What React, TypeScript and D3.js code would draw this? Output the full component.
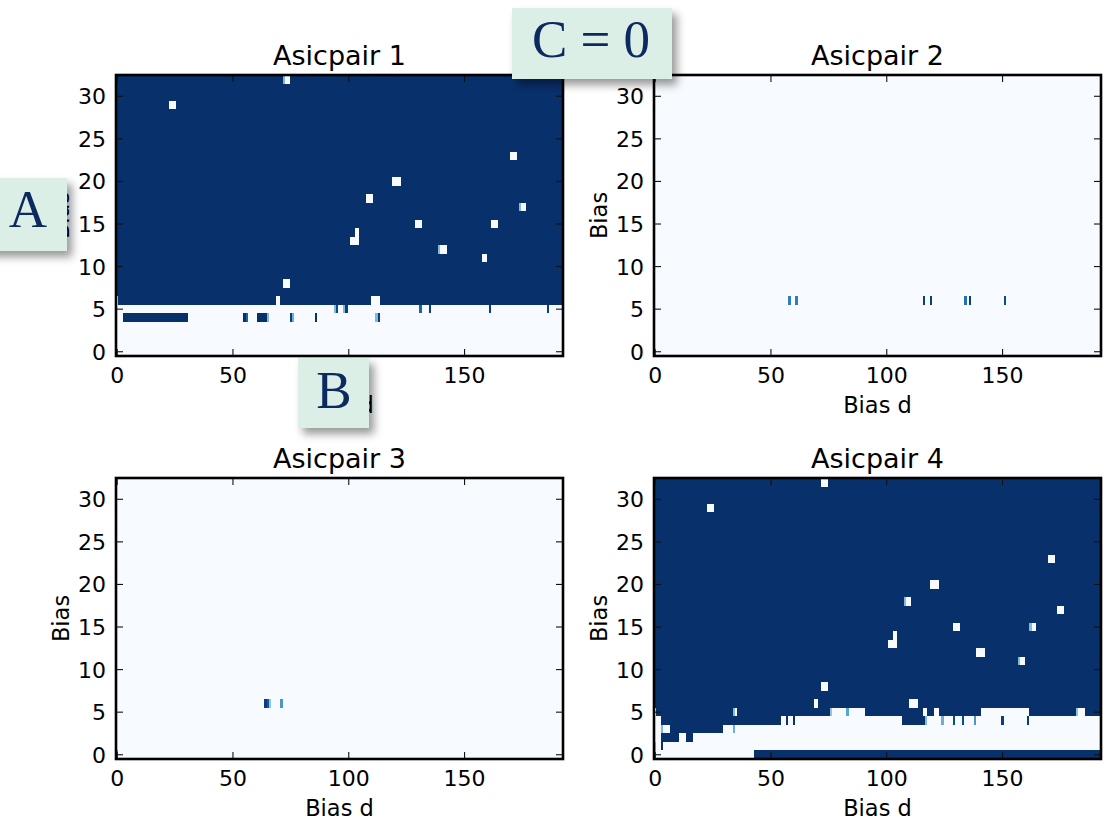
import React, { useEffect, useRef } from "react";
import * as d3 from "d3";

//size of every heatmap (bias d columns x bias rows)
const nCols = 193;
const nRows = 33;

//axis ticks
const xTicks = [0, 50, 100, 150];
const yTicks = [0, 5, 10, 15, 20, 25, 30];

const titles = ["Asicpair 1", "Asicpair 2", "Asicpair 3", "Asicpair 4"];
const xLabel = "Bias d";
const yLabel = "Bias";

//light area, per column range: [firstCol, lastCol, topLightRow]
const pair1Light = [[0, 192, 5]];
//single cells or runs that differ: [firstCol, lastCol, row, value]
const pair1Cells = [
  [0, 0, 6, 0],
  [23, 25, 29, 0],
  [72, 72, 32, 0.45],
  [73, 74, 32, 0],
  [72, 74, 8, 0],
  [69, 70, 6, 0],
  [110, 113, 6, 0],
  [170, 172, 23, 0],
  [119, 122, 20, 0],
  [108, 110, 18, 0],
  [174, 174, 17, 0.45],
  [175, 176, 17, 0],
  [129, 131, 15, 0],
  [162, 164, 15, 0],
  [103, 104, 14, 0],
  [101, 104, 13, 0],
  [139, 139, 12, 0.45],
  [140, 142, 12, 0],
  [158, 159, 11, 0],
  [94, 94, 5, 0.45],
  [95, 95, 5, 0.9],
  [98, 98, 5, 0.45],
  [99, 99, 5, 0.95],
  [131, 131, 5, 0.8],
  [135, 135, 5, 0.95],
  [161, 161, 5, 0.95],
  [186, 186, 5, 0.95],
  [3, 30, 4, 1],
  [55, 55, 4, 1],
  [56, 56, 4, 0.8],
  [61, 64, 4, 1],
  [65, 65, 4, 0.45],
  [75, 75, 4, 0.95],
  [76, 76, 4, 0.5],
  [86, 86, 4, 1],
  [112, 112, 4, 0.45],
  [113, 113, 4, 0.95],
];

const pair2Light = [[0, 192, 32]];
const pair2Cells = [
  [58, 58, 6, 0.7],
  [61, 61, 6, 0.7],
  [116, 116, 6, 0.95],
  [119, 119, 6, 0.95],
  [134, 134, 6, 0.75],
  [136, 136, 6, 0.95],
  [151, 151, 6, 0.9],
];

const pair3Light = [[0, 192, 32]];
const pair3Cells = [
  [0, 0, 0, 0.55],
  [64, 64, 6, 0.95],
  [65, 65, 6, 0.85],
  [66, 66, 6, 0.4],
  [71, 71, 6, 0.6],
];

const pair4Light = [
  [0, 0, 5],
  [1, 2, 4],
  [3, 3, 0],
  [4, 10, 1],
  [11, 13, 2],
  [14, 16, 1],
  [17, 29, 2],
  [30, 54, 3],
  [55, 75, 4],
  [76, 82, 5],
  [83, 83, 4],
  [84, 90, 5],
  [91, 106, 4],
  [107, 117, 3],
  [118, 120, 4],
  [121, 122, 5],
  [123, 140, 4],
  [141, 161, 5],
  [162, 181, 4],
  [182, 185, 5],
  [186, 192, 4],
];
const pair4Cells = [
  [43, 192, 0, 1],
  [0, 0, 0, 0.4],
  [0, 0, 1, 0.4],
  [3, 3, 3, 0.45],
  [4, 6, 3, 0],
  [34, 34, 3, 0.5],
  [57, 57, 4, 1],
  [60, 60, 4, 1],
  [76, 76, 5, 0.4],
  [83, 83, 5, 0.55],
  [117, 117, 4, 0.45],
  [124, 124, 4, 0.5],
  [129, 129, 4, 0.9],
  [133, 133, 4, 0.9],
  [138, 138, 4, 0.6],
  [150, 150, 4, 0.95],
  [161, 161, 4, 0.95],
  [182, 182, 5, 0.4],
  [23, 25, 29, 0],
  [72, 74, 32, 0],
  [170, 172, 23, 0],
  [119, 122, 20, 0],
  [108, 108, 18, 0.45],
  [109, 110, 18, 0],
  [174, 176, 17, 0],
  [129, 131, 15, 0],
  [162, 162, 15, 0.45],
  [163, 164, 15, 0],
  [103, 104, 14, 0],
  [101, 104, 13, 0],
  [139, 142, 12, 0],
  [157, 157, 11, 0.45],
  [158, 159, 11, 0],
  [72, 74, 8, 0],
  [69, 70, 6, 0],
  [110, 113, 6, 0],
  [34, 34, 5, 0.45],
  [35, 35, 5, 0],
  [116, 117, 5, 0],
];

//note boxes drawn over the figure
const notes = ["C = 0", "A", "B"];

//builds the value grid (1 = dark) from the light runs and single cells
const buildGrid = (light: number[][], cells: number[][]) => {
  const grid = d3.range(nRows).map(() => new Array(nCols).fill(1));
  light.forEach(([c0, c1, top]) => {
    for (let c = c0; c <= c1; c++) {
      for (let r = 0; r <= top; r++) grid[r][c] = 0;
    }
  });
  cells.forEach(([c0, c1, r, v]) => {
    for (let c = c0; c <= c1; c++) grid[r][c] = v;
  });
  return grid;
};

//merges equal neighbours in a row into one segment
const toSegments = (grid: number[][]) => {
  const segs: { row: number; c0: number; c1: number; v: number }[] = [];
  grid.forEach((rowVals, row) => {
    let start = 0;
    for (let c = 1; c <= nCols; c++) {
      if (c === nCols || rowVals[c] !== rowVals[start]) {
        segs.push({ row, c0: start, c1: c - 1, v: rowVals[start] });
        start = c;
      }
    }
  });
  return segs;
};

export default function App() {
  const svgRef = useRef<SVGSVGElement>(null);

  useEffect(() => {
    const svg = d3.select(svgRef.current);
    svg.selectAll("*").remove();

    const width = 1105;
    const height = 829;
    svg.attr("width", width).attr("height", height);

    const font = "DejaVu Sans, Bitstream Vera Sans, sans-serif";
    const color = d3.scaleSequential(d3.interpolateBlues).domain([0, 1]);

    //shadow for the note boxes
    const defs = svg.append("defs");
    defs.append("filter")
      .attr("id", "shadow")
      .attr("x", "-30%").attr("y", "-30%")
      .attr("width", "170%").attr("height", "170%")
      .append("feDropShadow")
      .attr("dx", 5).attr("dy", 6)
      .attr("stdDeviation", 4)
      .attr("flood-color", "#000")
      .attr("flood-opacity", 0.4);

    const panels = [
      { left: 116, top: 75, light: pair1Light, cells: pair1Cells },
      { left: 654, top: 75, light: pair2Light, cells: pair2Cells },
      { left: 116, top: 478, light: pair3Light, cells: pair3Cells },
      { left: 654, top: 478, light: pair4Light, cells: pair4Cells },
    ];
    const pw = 447;
    const ph = 281;

    panels.forEach((p, i) => {
      const x = d3.scaleLinear().domain([-0.5, nCols - 0.5]).range([p.left, p.left + pw]);
      const y = d3.scaleLinear().domain([-0.5, nRows - 0.5]).range([p.top + ph, p.top]);
      const g = svg.append("g");

      //heatmap cells
      const segs = toSegments(buildGrid(p.light, p.cells));
      g.append("g")
        .attr("shape-rendering", "crispEdges")
        .selectAll("rect")
        .data(segs)
        .join("rect")
        .attr("x", (d) => x(d.c0 - 0.5))
        .attr("width", (d) => x(d.c1 + 0.5) - x(d.c0 - 0.5))
        .attr("y", (d) => y(d.row + 0.5))
        .attr("height", (d) => y(d.row - 0.5) - y(d.row + 0.5))
        .attr("fill", (d) => color(d.v));

      //inward ticks on all four sides
      const tickLen = 7;
      const ticks = g.append("g").attr("stroke", "#111").attr("stroke-width", 1.1);
      xTicks.forEach((t) => {
        ticks.append("line").attr("x1", x(t)).attr("x2", x(t))
          .attr("y1", p.top + ph).attr("y2", p.top + ph - tickLen);
        ticks.append("line").attr("x1", x(t)).attr("x2", x(t))
          .attr("y1", p.top).attr("y2", p.top + tickLen);
      });
      yTicks.forEach((t) => {
        ticks.append("line").attr("x1", p.left).attr("x2", p.left + tickLen)
          .attr("y1", y(t)).attr("y2", y(t));
        ticks.append("line").attr("x1", p.left + pw).attr("x2", p.left + pw - tickLen)
          .attr("y1", y(t)).attr("y2", y(t));
      });

      //frame
      g.append("rect")
        .attr("x", p.left).attr("y", p.top)
        .attr("width", pw).attr("height", ph)
        .attr("fill", "none")
        .attr("stroke", "#000")
        .attr("stroke-width", 2.6);

      //tick labels
      xTicks.forEach((t) => {
        g.append("text")
          .attr("x", x(t)).attr("y", p.top + ph + 27)
          .attr("text-anchor", "middle")
          .attr("font-family", font).attr("font-size", 22)
          .text(t);
      });
      yTicks.forEach((t) => {
        g.append("text")
          .attr("x", p.left - 10).attr("y", y(t))
          .attr("dy", "0.36em")
          .attr("text-anchor", "end")
          .attr("font-family", font).attr("font-size", 22)
          .text(t);
      });

      //axis labels
      g.append("text")
        .attr("x", p.left + pw / 2).attr("y", p.top + ph + 57)
        .attr("text-anchor", "middle")
        .attr("font-family", font).attr("font-size", 22.5)
        .text(xLabel);
      g.append("text")
        .attr("transform", `translate(${p.left - 47},${p.top + ph / 2}) rotate(-90)`)
        .attr("text-anchor", "middle")
        .attr("font-family", font).attr("font-size", 22.5)
        .text(yLabel);

      //title
      g.append("text")
        .attr("x", p.left + pw / 2).attr("y", p.top - 10)
        .attr("text-anchor", "middle")
        .attr("font-family", font).attr("font-size", 27)
        .text(titles[i]);
    });

    //note boxes on top
    const boxes = [
      { x: 512, y: 8, w: 160, h: 71, tx: 591, ty: 57 },
      { x: -20, y: 178, w: 87, h: 73, tx: 28, ty: 227 },
      { x: 298, y: 358, w: 71, h: 70, tx: 334, ty: 408 },
    ];
    boxes.forEach((b, i) => {
      svg.append("rect")
        .attr("x", b.x).attr("y", b.y)
        .attr("width", b.w).attr("height", b.h)
        .attr("fill", "#dcefe6")
        .attr("filter", "url(#shadow)");
      svg.append("text")
        .attr("x", b.tx).attr("y", b.ty)
        .attr("text-anchor", "middle")
        .attr("font-family", "Liberation Serif, DejaVu Serif, serif")
        .attr("font-size", 53)
        .attr("fill", "#0c2a60")
        .text(notes[i]);
    });
  }, []);

  return (
    <div>
      {/*whole figure*/}
      <svg ref={svgRef} style={{ position: "absolute", left: 0, top: 0, background: "#fff" }}></svg>
    </div>
  );
}
